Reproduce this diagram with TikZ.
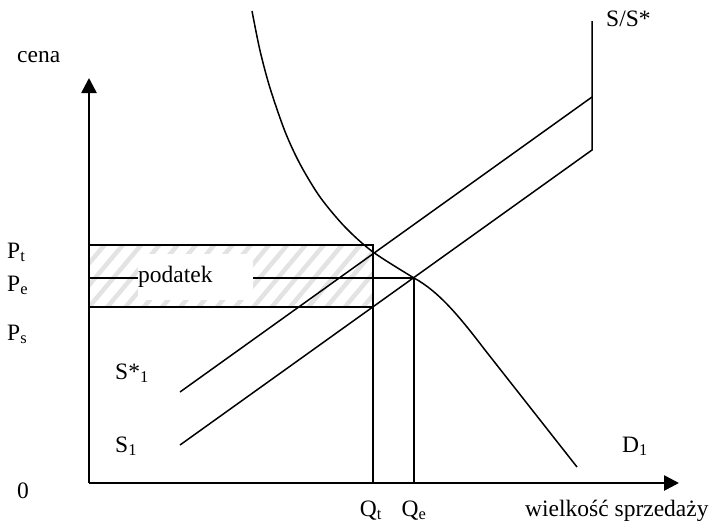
\documentclass[tikz,border=0pt]{standalone}
\usepackage{fontspec}
\setmainfont{Liberation Serif}
\usetikzlibrary{arrows.meta,patterns.meta}

\begin{document}
\begin{tikzpicture}[x=1pt, y=-1pt,
    every node/.style={font=\fontsize{23.5}{27}\selectfont, inner sep=0pt},
    ax/.style={line width=2.6pt, -{Triangle[length=15pt, width=15pt]}},
    ln/.style={line width=1.5pt},
    lbl/.style={anchor=base west},
    hatch/.style={pattern={Lines[angle=50, distance=14pt, line width=4.5pt]},
                  pattern color=black!11},
  ]
  \useasboundingbox (0,0) rectangle (711,522);
  % punkty
  \coordinate (o) at (89,483);
  \coordinate (ytop) at (89,78);
  \coordinate (xend) at (679,483);
  \coordinate (ptl) at (89,245);
  \coordinate (psr) at (373,307);
  \coordinate (pel) at (89,278);
  \coordinate (qtop) at (373,245);
  \coordinate (eq) at (414,278);
  \coordinate (qt) at (373,483);
  \coordinate (qe) at (414,483);
  \coordinate (sa) at (180,392);
  \coordinate (sb) at (592,97);
  \coordinate (sc) at (180,445);
  \coordinate (sd) at (592,150);
  \coordinate (se) at (592,21);
  \coordinate (dend) at (577,467);
  % podatek
  \fill[hatch] (ptl) rectangle (psr);
  \draw[ln] (ptl) rectangle (psr);
  \draw[ln] (pel) -- (eq);
  \node[anchor=west, fill=white, text width=115pt, minimum height=46pt,
        align=left] (tax) at (138,277) {podatek};
  % podaz
  \draw[ln] (sa) -- (sb);
  \draw[ln] (sc) -- (sd) -- (se);
  % popyt
  \draw[ln] plot[smooth] coordinates {(252,11) (260,50.6) (270,88) (285,131.5)
      (300,164) (320,197) (345,227) (373,252) (414,278)}
    .. controls (440,292) and (462,320) .. (485,350) -- (dend);
  \draw[ln] (qtop) -- (qt);
  \draw[ln] (eq) -- (qe);
  % osie
  \draw[ax] (o) -- (ytop);
  \draw[ax] (o) -- (xend);
  % opisy
  \node[lbl] (cena) at (17,62) {cena};
  \node[lbl] (ss) at (606,26) {S/S*};
  \node[lbl] (pt) at (7,258) {P\textsubscript{t}};
  \node[lbl] (pe) at (7,291) {P\textsubscript{e}};
  \node[lbl] (ps) at (7,340) {P\textsubscript{s}};
  \node[lbl] (zero) at (17,498) {0};
  \node[lbl] (sg1) at (115,379) {S*\textsubscript{1}};
  \node[lbl] (s1) at (115,452) {S\textsubscript{1}};
  \node[lbl] (d1) at (622,452) {D\textsubscript{1}};
  \node[anchor=base] (lqt) at (371,516) {Q\textsubscript{t}};
  \node[anchor=base] (lqe) at (414,516) {Q\textsubscript{e}};
  \node[lbl] (ws) at (525,516) {wielkość sprzedaży};
\end{tikzpicture}
\end{document}
